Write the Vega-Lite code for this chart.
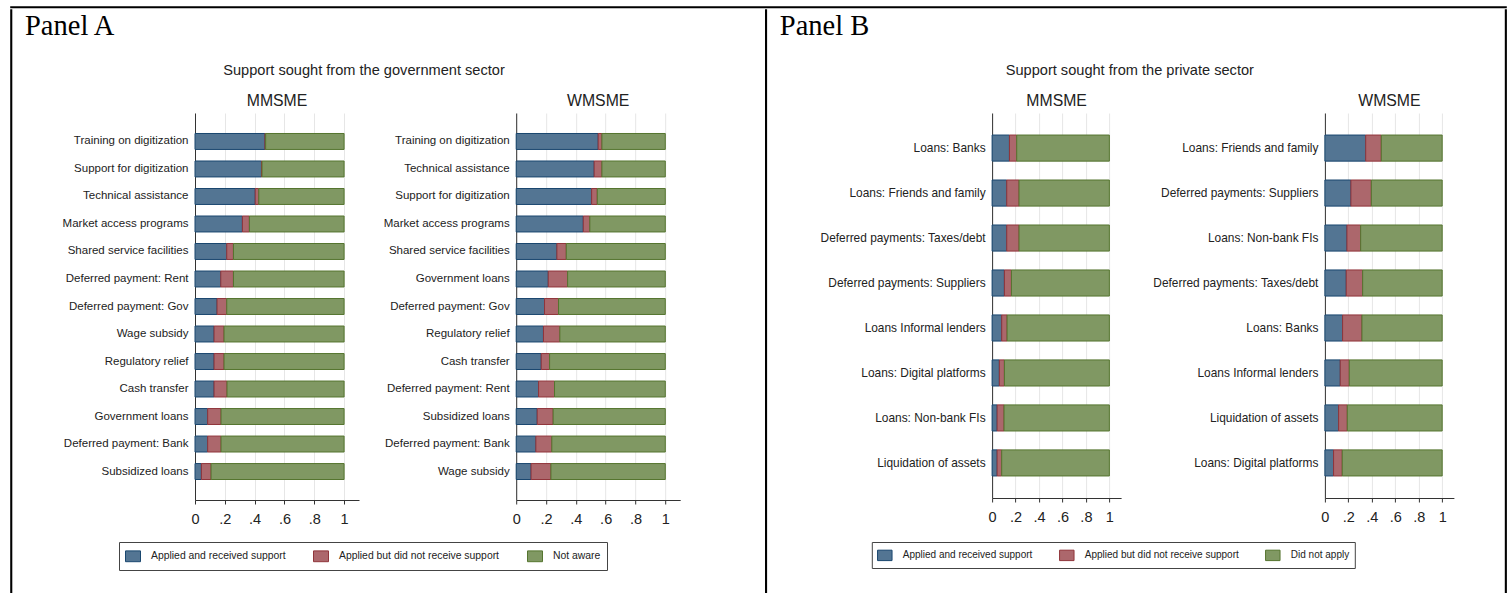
{
  "$schema": "https://vega.github.io/schema/vega-lite/v6.json",
  "autosize": {"type": "pad"},
  "padding": {"left": 10, "top": 6, "right": 0, "bottom": 0},
  "background": "white",
  "config": {
    "view": {"stroke": null},
    "font": "Liberation Sans",
    "title": {"font": "Liberation Sans", "fontWeight": "normal", "color": "#222"},
    "axis": {"labelFont": "Liberation Sans", "labelColor": "#222", "domainColor": "#333", "tickColor": "#333", "gridColor": "#e6e6e6"},
    "legend": {"labelFont": "Liberation Sans", "labelColor": "#222"}
  },
  "datasets": {
    "govM": [
      {"item": "Training on digitization", "rank": 1, "Applied and received support": 0.469, "Applied but did not receive support": 0.005, "Not aware": 0.526},
      {"item": "Support for digitization", "rank": 2, "Applied and received support": 0.446, "Applied but did not receive support": 0.004, "Not aware": 0.55},
      {"item": "Technical assistance", "rank": 3, "Applied and received support": 0.404, "Applied but did not receive support": 0.024, "Not aware": 0.572},
      {"item": "Market access programs", "rank": 4, "Applied and received support": 0.318, "Applied but did not receive support": 0.047, "Not aware": 0.635},
      {"item": "Shared service facilities", "rank": 5, "Applied and received support": 0.213, "Applied but did not receive support": 0.045, "Not aware": 0.742},
      {"item": "Deferred payment: Rent", "rank": 6, "Applied and received support": 0.173, "Applied but did not receive support": 0.085, "Not aware": 0.742},
      {"item": "Deferred payment: Gov", "rank": 7, "Applied and received support": 0.148, "Applied but did not receive support": 0.065, "Not aware": 0.787},
      {"item": "Wage subsidy", "rank": 8, "Applied and received support": 0.128, "Applied but did not receive support": 0.067, "Not aware": 0.805},
      {"item": "Regulatory relief", "rank": 9, "Applied and received support": 0.128, "Applied but did not receive support": 0.067, "Not aware": 0.805},
      {"item": "Cash transfer", "rank": 10, "Applied and received support": 0.128, "Applied but did not receive support": 0.087, "Not aware": 0.785},
      {"item": "Government loans", "rank": 11, "Applied and received support": 0.085, "Applied but did not receive support": 0.09, "Not aware": 0.825},
      {"item": "Deferred payment: Bank", "rank": 12, "Applied and received support": 0.085, "Applied but did not receive support": 0.09, "Not aware": 0.825},
      {"item": "Subsidized loans", "rank": 13, "Applied and received support": 0.043, "Applied but did not receive support": 0.065, "Not aware": 0.892}
    ],
    "govW": [
      {"item": "Training on digitization", "rank": 1, "Applied and received support": 0.55, "Applied but did not receive support": 0.025, "Not aware": 0.425},
      {"item": "Technical assistance", "rank": 2, "Applied and received support": 0.523, "Applied but did not receive support": 0.052, "Not aware": 0.425},
      {"item": "Support for digitization", "rank": 3, "Applied and received support": 0.506, "Applied but did not receive support": 0.038, "Not aware": 0.456},
      {"item": "Market access programs", "rank": 4, "Applied and received support": 0.45, "Applied but did not receive support": 0.044, "Not aware": 0.506},
      {"item": "Shared service facilities", "rank": 5, "Applied and received support": 0.273, "Applied but did not receive support": 0.063, "Not aware": 0.664},
      {"item": "Government loans", "rank": 6, "Applied and received support": 0.215, "Applied but did not receive support": 0.13, "Not aware": 0.655},
      {"item": "Deferred payment: Gov", "rank": 7, "Applied and received support": 0.19, "Applied but did not receive support": 0.094, "Not aware": 0.716},
      {"item": "Regulatory relief", "rank": 8, "Applied and received support": 0.183, "Applied but did not receive support": 0.11, "Not aware": 0.707},
      {"item": "Cash transfer", "rank": 9, "Applied and received support": 0.168, "Applied but did not receive support": 0.056, "Not aware": 0.776},
      {"item": "Deferred payment: Rent", "rank": 10, "Applied and received support": 0.15, "Applied but did not receive support": 0.107, "Not aware": 0.743},
      {"item": "Subsidized loans", "rank": 11, "Applied and received support": 0.141, "Applied but did not receive support": 0.107, "Not aware": 0.752},
      {"item": "Deferred payment: Bank", "rank": 12, "Applied and received support": 0.132, "Applied but did not receive support": 0.107, "Not aware": 0.761},
      {"item": "Wage subsidy", "rank": 13, "Applied and received support": 0.1, "Applied but did not receive support": 0.133, "Not aware": 0.767}
    ],
    "privM": [
      {"item": "Loans: Banks", "rank": 1, "Applied and received support": 0.148, "Applied but did not receive support": 0.062, "Did not apply": 0.79},
      {"item": "Loans: Friends and family", "rank": 2, "Applied and received support": 0.125, "Applied but did not receive support": 0.105, "Did not apply": 0.77},
      {"item": "Deferred payments: Taxes/debt", "rank": 3, "Applied and received support": 0.125, "Applied but did not receive support": 0.105, "Did not apply": 0.77},
      {"item": "Deferred payments: Suppliers", "rank": 4, "Applied and received support": 0.105, "Applied but did not receive support": 0.06, "Did not apply": 0.835},
      {"item": "Loans Informal lenders", "rank": 5, "Applied and received support": 0.082, "Applied but did not receive support": 0.046, "Did not apply": 0.872},
      {"item": "Loans: Digital platforms", "rank": 6, "Applied and received support": 0.062, "Applied but did not receive support": 0.043, "Did not apply": 0.895},
      {"item": "Loans: Non-bank FIs", "rank": 7, "Applied and received support": 0.043, "Applied but did not receive support": 0.059, "Did not apply": 0.898},
      {"item": "Liquidation of assets", "rank": 8, "Applied and received support": 0.043, "Applied but did not receive support": 0.039, "Did not apply": 0.918}
    ],
    "privW": [
      {"item": "Loans: Friends and family", "rank": 1, "Applied and received support": 0.348, "Applied but did not receive support": 0.133, "Did not apply": 0.519},
      {"item": "Deferred payments: Suppliers", "rank": 2, "Applied and received support": 0.222, "Applied but did not receive support": 0.174, "Did not apply": 0.604},
      {"item": "Loans: Non-bank FIs", "rank": 3, "Applied and received support": 0.188, "Applied but did not receive support": 0.117, "Did not apply": 0.695},
      {"item": "Deferred payments: Taxes/debt", "rank": 4, "Applied and received support": 0.182, "Applied but did not receive support": 0.14, "Did not apply": 0.678},
      {"item": "Loans: Banks", "rank": 5, "Applied and received support": 0.151, "Applied but did not receive support": 0.165, "Did not apply": 0.684},
      {"item": "Loans Informal lenders", "rank": 6, "Applied and received support": 0.131, "Applied but did not receive support": 0.077, "Did not apply": 0.792},
      {"item": "Liquidation of assets", "rank": 7, "Applied and received support": 0.117, "Applied but did not receive support": 0.074, "Did not apply": 0.809},
      {"item": "Loans: Digital platforms", "rank": 8, "Applied and received support": 0.074, "Applied but did not receive support": 0.074, "Did not apply": 0.852}
    ]
  },
  "spacing": 0,
  "vconcat": [
    {"width": 1495, "height": 0.5, "data": {"values": []}, "mark": "point", "view": {"stroke": "#000", "strokeWidth": 1.6}},
    {
      "concat": [
        {"width": 0.5, "height": 584, "data": {"values": []}, "mark": "point", "view": {"stroke": "#000", "strokeWidth": 1.6}},
        {
          "concat": [
            {
              "spacing": 15,
              "vconcat": [
                {"width": 1, "height": 0.5, "data": {"values": []}, "mark": "point", "title": {"text": "Panel A", "orient": "bottom", "anchor": "start", "frame": "group", "font": "Liberation Serif", "fontSize": 28.5, "offset": 1, "dx": -170, "color": "#000"}},
                {"width": 338, "height": 0.5, "data": {"values": []}, "mark": "point", "title": {"text": "Support sought from the government sector", "orient": "bottom", "anchor": "middle", "frame": "group", "fontSize": 14.6, "offset": 7.5}},
                {
                  "spacing": 17.2,
                  "hconcat": [
                    {
                      "title": {"text": "MMSME", "fontSize": 15.8, "anchor": "middle", "frame": "group", "offset": 3},
                      "width": 164, "height": 387,
                      "data": {"name": "govM"},
                      "transform": [{"fold": ["Applied and received support", "Applied but did not receive support", "Not aware"], "as": ["status", "share"]}],
                      "mark": {"type": "bar", "strokeWidth": 1},
                      "encoding": {
                        "y": {"field": "item", "type": "nominal", "sort": {"field": "rank", "op": "min", "order": "ascending"}, "scale": {"paddingInner": 0.42, "paddingOuter": 0.745}, "axis": {"title": null, "ticks": false, "tickSize": 0, "labelPadding": 7, "labelFontSize": 11.5, "minExtent": 170, "labelLimit": 300}},
                        "x": {"field": "share", "type": "quantitative", "stack": "zero", "scale": {"domain": [0, 1.1], "nice": false}, "axis": {"title": null, "values": [0, 0.2, 0.4, 0.6, 0.8, 1], "labelExpr": "datum.value == 0 ? '0' : datum.value == 1 ? '1' : replace(format(datum.value, '.1f'), '0.', '.')", "grid": true, "tickSize": 4, "labelPadding": 8, "labelFontSize": 14.5, "labelFlush": false, "labelOverlap": false}},
                        "fill": {"field": "status", "type": "nominal", "scale": {"domain": ["Applied and received support", "Applied but did not receive support", "Not aware"], "range": ["#537593", "#ac676c", "#809863"]}, "legend": {"orient": "none", "legendX": -76, "legendY": 532, "direction": "horizontal", "title": null, "symbolType": "M-1,-0.72H1V0.72H-1Z", "symbolSize": 225, "symbolStrokeWidth": 1, "labelFontSize": 10.4, "labelOffset": 10, "columnPadding": 25, "padding": 6, "strokeColor": "#444", "fillColor": "white", "labelLimit": 300}},
                        "stroke": {"field": "status", "type": "nominal", "scale": {"domain": ["Applied and received support", "Applied but did not receive support", "Not aware"], "range": ["#1a476f", "#90353b", "#55752f"]}, "legend": {"orient": "none", "legendX": -76, "legendY": 532, "direction": "horizontal", "title": null, "symbolType": "M-1,-0.72H1V0.72H-1Z", "symbolSize": 225, "symbolStrokeWidth": 1, "labelFontSize": 10.4, "labelOffset": 10, "columnPadding": 25, "padding": 6, "strokeColor": "#444", "fillColor": "white", "labelLimit": 300}},
                        "order": {"field": "status", "type": "ordinal", "sort": "ascending"}
                      }
                    },
                    {
                      "title": {"text": "WMSME", "fontSize": 15.8, "anchor": "middle", "frame": "group", "offset": 3},
                      "width": 164, "height": 387,
                      "data": {"name": "govW"},
                      "transform": [{"fold": ["Applied and received support", "Applied but did not receive support", "Not aware"], "as": ["status", "share"]}],
                      "mark": {"type": "bar", "strokeWidth": 1},
                      "encoding": {
                        "y": {"field": "item", "type": "nominal", "sort": {"field": "rank", "op": "min", "order": "ascending"}, "scale": {"paddingInner": 0.42, "paddingOuter": 0.745}, "axis": {"title": null, "ticks": false, "tickSize": 0, "labelPadding": 7, "labelFontSize": 11.5, "minExtent": 140, "labelLimit": 300}},
                        "x": {"field": "share", "type": "quantitative", "stack": "zero", "scale": {"domain": [0, 1.1], "nice": false}, "axis": {"title": null, "values": [0, 0.2, 0.4, 0.6, 0.8, 1], "labelExpr": "datum.value == 0 ? '0' : datum.value == 1 ? '1' : replace(format(datum.value, '.1f'), '0.', '.')", "grid": true, "tickSize": 4, "labelPadding": 8, "labelFontSize": 14.5, "labelFlush": false, "labelOverlap": false}},
                        "fill": {"field": "status", "type": "nominal"},
                        "stroke": {"field": "status", "type": "nominal"},
                        "order": {"field": "status", "type": "ordinal", "sort": "ascending"}
                      }
                    }
                  ]
                }
              ]
            },
            {
              "concat": [
                {"width": 0.5, "height": 584, "data": {"values": []}, "mark": "point", "view": {"stroke": "#000", "strokeWidth": 1.6}},
                {
                  "concat": [
                    {
                      "spacing": 15,
                      "vconcat": [
                        {"width": 1, "height": 0.5, "data": {"values": []}, "mark": "point", "title": {"text": "Panel B", "orient": "bottom", "anchor": "start", "frame": "group", "font": "Liberation Serif", "fontSize": 28.5, "offset": 1, "dx": -212.3, "color": "#000"}},
                        {"width": 275.4, "height": 0.5, "data": {"values": []}, "mark": "point", "title": {"text": "Support sought from the private sector", "orient": "bottom", "anchor": "middle", "frame": "group", "fontSize": 14.6, "offset": 7.5}},
                        {
                          "spacing": 23.8,
                          "hconcat": [
                            {
                              "title": {"text": "MMSME", "fontSize": 15.8, "anchor": "middle", "frame": "group", "offset": 3},
                              "width": 129, "height": 385,
                              "data": {"name": "privM"},
                              "transform": [{"fold": ["Applied and received support", "Applied but did not receive support", "Did not apply"], "as": ["status", "share"]}],
                              "mark": {"type": "bar", "strokeWidth": 1},
                              "encoding": {
                                "y": {"field": "item", "type": "nominal", "sort": {"field": "rank", "op": "min", "order": "ascending"}, "scale": {"paddingInner": 0.42, "paddingOuter": 0.49}, "axis": {"title": null, "ticks": false, "tickSize": 0, "labelPadding": 7, "labelFontSize": 11.9, "minExtent": 212.3, "labelLimit": 300}},
                                "x": {"field": "share", "type": "quantitative", "stack": "zero", "scale": {"domain": [0, 1.1], "nice": false}, "axis": {"title": null, "values": [0, 0.2, 0.4, 0.6, 0.8, 1], "labelExpr": "datum.value == 0 ? '0' : datum.value == 1 ? '1' : replace(format(datum.value, '.1f'), '0.', '.')", "grid": true, "tickSize": 4, "labelPadding": 8, "labelFontSize": 14.5, "labelFlush": false, "labelOverlap": false}},
                                "fill": {"field": "status", "type": "nominal", "scale": {"domain": ["Applied and received support", "Applied but did not receive support", "Did not apply"], "range": ["#537593", "#ac676c", "#809863"]}, "legend": {"orient": "none", "legendX": -120.3, "legendY": 532, "direction": "horizontal", "title": null, "symbolType": "M-1,-0.72H1V0.72H-1Z", "symbolSize": 210, "symbolStrokeWidth": 1, "labelFontSize": 10, "labelOffset": 10, "columnPadding": 24, "padding": 5, "strokeColor": "#444", "fillColor": "white", "labelLimit": 300}},
                                "stroke": {"field": "status", "type": "nominal", "scale": {"domain": ["Applied and received support", "Applied but did not receive support", "Did not apply"], "range": ["#1a476f", "#90353b", "#55752f"]}, "legend": {"orient": "none", "legendX": -120.3, "legendY": 532, "direction": "horizontal", "title": null, "symbolType": "M-1,-0.72H1V0.72H-1Z", "symbolSize": 210, "symbolStrokeWidth": 1, "labelFontSize": 10, "labelOffset": 10, "columnPadding": 24, "padding": 5, "strokeColor": "#444", "fillColor": "white", "labelLimit": 300}},
                                "order": {"field": "status", "type": "ordinal", "sort": "ascending"}
                              }
                            },
                            {
                              "title": {"text": "WMSME", "fontSize": 15.8, "anchor": "middle", "frame": "group", "offset": 3},
                              "width": 129, "height": 385,
                              "data": {"name": "privW"},
                              "transform": [{"fold": ["Applied and received support", "Applied but did not receive support", "Did not apply"], "as": ["status", "share"]}],
                              "mark": {"type": "bar", "strokeWidth": 1},
                              "encoding": {
                                "y": {"field": "item", "type": "nominal", "sort": {"field": "rank", "op": "min", "order": "ascending"}, "scale": {"paddingInner": 0.42, "paddingOuter": 0.49}, "axis": {"title": null, "ticks": false, "tickSize": 0, "labelPadding": 7, "labelFontSize": 11.9, "minExtent": 180, "labelLimit": 300}},
                                "x": {"field": "share", "type": "quantitative", "stack": "zero", "scale": {"domain": [0, 1.1], "nice": false}, "axis": {"title": null, "values": [0, 0.2, 0.4, 0.6, 0.8, 1], "labelExpr": "datum.value == 0 ? '0' : datum.value == 1 ? '1' : replace(format(datum.value, '.1f'), '0.', '.')", "grid": true, "tickSize": 4, "labelPadding": 8, "labelFontSize": 14.5, "labelFlush": false, "labelOverlap": false}},
                                "fill": {"field": "status", "type": "nominal"},
                                "stroke": {"field": "status", "type": "nominal"},
                                "order": {"field": "status", "type": "ordinal", "sort": "ascending"}
                              }
                            }
                          ]
                        }
                      ]
                    },
                    {"width": 0.5, "height": 584, "data": {"values": []}, "mark": "point", "view": {"stroke": "#000", "strokeWidth": 1.6}}
                  ],
                  "columns": 2,
                  "align": "none",
                  "spacing": 50.5,
                  "resolve": {"scale": {"fill": "independent", "stroke": "independent"}}
                }
              ],
              "columns": 2,
              "align": "none",
              "spacing": 11.3,
              "resolve": {"scale": {"fill": "independent", "stroke": "independent"}}
            }
          ],
          "columns": 2,
          "align": "none",
          "spacing": 83.8,
          "resolve": {"scale": {"fill": "independent", "stroke": "independent"}}
        }
      ],
      "columns": 2,
      "align": "none",
      "spacing": 12
    }
  ]
}
